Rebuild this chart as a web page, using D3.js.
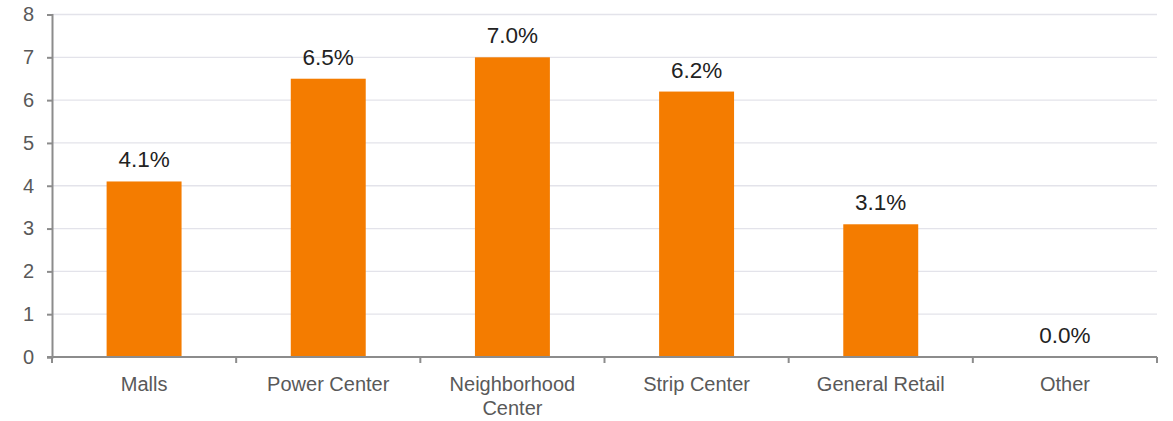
<!DOCTYPE html>
<html><head><meta charset="utf-8">
<script src="https://cdn.jsdelivr.net/npm/d3@7"></script>
<style>body{margin:0;background:#fff}svg{display:block;font-family:"Liberation Sans",Arial,sans-serif}</style>
</head><body>
<svg id="c" width="1173" height="421"></svg>
<script>
const categories = ["Malls", "Power Center", "Neighborhood Center", "Strip Center", "General Retail", "Other"];
const values = [4.1, 6.5, 7.0, 6.2, 3.1, 0.0];
const yTicks = [0, 1, 2, 3, 4, 5, 6, 7, 8];

const svg = d3.select("#c");
const x0 = 52, x1 = 1157, yTop = 14.5, yBot = 357;
const x = d3.scaleBand().domain(categories).range([x0, x1]).paddingInner(0.593).paddingOuter(0.2965);
const xb = d3.scaleBand().domain(categories).range([x0, x1]);
const y = d3.scaleLinear().domain([0, 8]).range([yBot, yTop]);

// grid
svg.append("g").selectAll("line").data(yTicks.filter(d => d > 0)).join("line")
  .attr("x1", x0).attr("x2", x1).attr("y1", d => y(d)).attr("y2", d => y(d))
  .attr("stroke", "#e3e3ea").attr("stroke-width", 1.3);

// bars
svg.append("g").selectAll("rect").data(categories).join("rect")
  .attr("x", d => x(d)).attr("width", x.bandwidth())
  .attr("y", (d, i) => y(values[i])).attr("height", (d, i) => yBot - y(values[i]))
  .attr("fill", "#f47c00");

// data labels
svg.append("g").selectAll("text").data(categories).join("text")
  .attr("x", d => x(d) + x.bandwidth() / 2)
  .attr("y", (d, i) => y(values[i]) - 14)
  .attr("text-anchor", "middle").attr("font-size", 22.5).attr("fill", "#222")
  .text((d, i) => values[i].toFixed(1) + "%");

// y axis
const ya = svg.append("g").attr("transform", `translate(${x0},0)`)
  .call(d3.axisLeft(y).tickValues(yTicks).tickSize(5).tickPadding(13).tickFormat(d3.format("d")));
ya.select(".domain").attr("stroke", "#8c8c8c").attr("stroke-width", 2);
ya.selectAll(".tick line").attr("stroke", "#8c8c8c").attr("stroke-width", 2);
ya.selectAll(".tick text").attr("font-size", 20).attr("fill", "#595959").attr("font-family", "Liberation Sans, Arial, sans-serif");

// x axis line
svg.append("line").attr("x1", x0 - 5).attr("x2", x1).attr("y1", yBot).attr("y2", yBot)
  .attr("stroke", "#8c8c8c").attr("stroke-width", 2);
const bounds = categories.map(d => xb(d)).concat([x1]);
svg.append("g").selectAll("line").data(bounds).join("line")
  .attr("x1", d => d).attr("x2", d => d).attr("y1", yBot).attr("y2", yBot + 6)
  .attr("stroke", "#8c8c8c").attr("stroke-width", 2);

// category labels
const cl = svg.append("g").selectAll("text").data(categories).join("text")
  .attr("x", d => xb(d) + xb.bandwidth() / 2).attr("y", 390.5)
  .attr("text-anchor", "middle").attr("font-size", 20).attr("fill", "#595959");
cl.each(function(d) {
  const t = d3.select(this);
  const words = d === "Neighborhood Center" ? ["Neighborhood", "Center"] : [d];
  words.forEach((w, i) => t.append("tspan").attr("x", xb(d) + xb.bandwidth() / 2).attr("dy", i ? 24.5 : 0).text(w));
});
</script>
</body></html>
